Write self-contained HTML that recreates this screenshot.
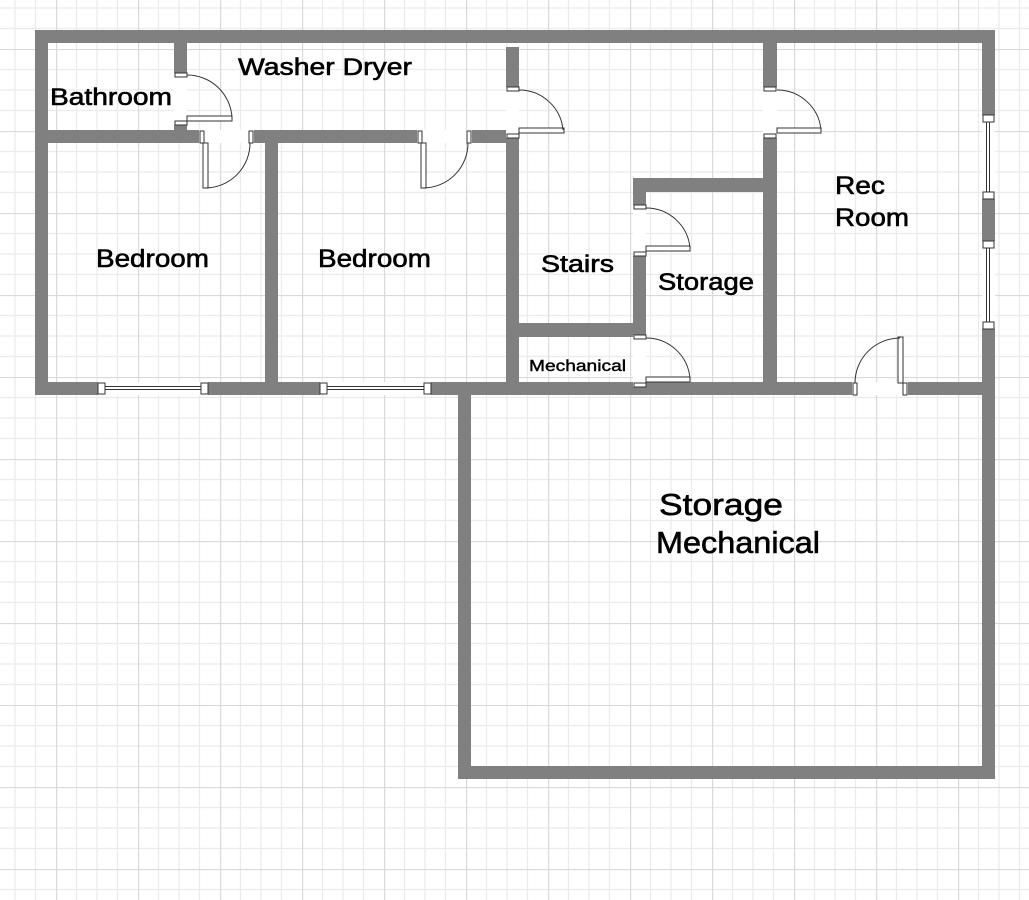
<!DOCTYPE html>
<html><head><meta charset="utf-8"><style>
html,body{margin:0;padding:0;background:#fff;}
svg{display:block;}
text{font-family:"Liberation Sans",Arial,sans-serif;fill:#000;stroke:#000;stroke-width:0.6;}
</style></head><body>
<svg width="1029" height="900" viewBox="0 0 1029 900" xmlns="http://www.w3.org/2000/svg">
<defs>
<pattern id="g" x="56" y="49" width="82" height="82" patternUnits="userSpaceOnUse">
<rect width="82" height="82" fill="#fff"/>
<path d="M20.5 0V82M41 0V82M61.5 0V82M0 20.5H82M0 41H82M0 61.5H82" stroke="#ebebeb" stroke-width="1.2" fill="none"/>
<path d="M0.5 0V82M0 0.5H82" stroke="#d9d9d9" stroke-width="1.3" fill="none"/>
</pattern>
</defs>
<rect width="1029" height="900" fill="url(#g)"/>
<g fill="#808080">
<rect x="35" y="30" width="960" height="13"/>
<rect x="35" y="30" width="13" height="365"/>
<rect x="35" y="382" width="960" height="13"/>
<rect x="982" y="30" width="13" height="749"/>
<rect x="458" y="382" width="13" height="397"/>
<rect x="458" y="766" width="537" height="13"/>
<rect x="174" y="30" width="13" height="113"/>
<rect x="35" y="130" width="484" height="13"/>
<rect x="265" y="130" width="13" height="265"/>
<rect x="506" y="47" width="13" height="348"/>
<rect x="763" y="30" width="14" height="365"/>
<rect x="633" y="178" width="144" height="14"/>
<rect x="633" y="178" width="13" height="217"/>
<rect x="506" y="323" width="140" height="14"/>
</g>
<g stroke="#333" stroke-width="1" fill="#fff">
<rect x="174" y="73" width="13" height="52" stroke="none"/>
<rect x="175" y="73" width="12" height="4"/><rect x="175" y="121" width="12" height="4"/>
<rect x="187" y="116" width="45" height="5"/>
<path d="M187 75 A45 45 0 0 1 232 118" fill="none"/>
<rect x="506" y="87" width="13" height="51" stroke="none"/>
<rect x="507" y="87" width="12" height="4"/><rect x="507" y="134" width="12" height="4"/>
<rect x="519" y="128" width="45" height="5"/>
<path d="M519 90 A44 44 0 0 1 563 130" fill="none"/>
<rect x="763" y="87" width="14" height="51" stroke="none"/>
<rect x="764" y="87" width="12" height="4"/><rect x="764" y="134" width="12" height="4"/>
<rect x="777" y="128" width="44" height="5"/>
<path d="M777 90 A44 44 0 0 1 821 130" fill="none"/>
<rect x="633" y="205" width="13" height="51" stroke="none"/>
<rect x="634" y="205" width="12" height="4"/><rect x="634" y="252" width="12" height="4"/>
<rect x="646" y="246" width="44" height="5"/>
<path d="M646 208 A44 44 0 0 1 690 248" fill="none"/>
<rect x="633" y="335" width="13" height="52" stroke="none"/>
<rect x="634" y="335" width="12" height="4"/><rect x="634" y="383" width="12" height="4"/>
<rect x="646" y="377" width="44" height="5"/>
<path d="M646 338 A44 44 0 0 1 690 379" fill="none"/>
<rect x="199" y="130" width="55" height="13" stroke="none"/>
<rect x="200" y="131" width="4" height="12"/><rect x="249" y="131" width="4" height="12"/>
<rect x="203" y="143" width="5" height="45"/>
<path d="M205 188 A45 45 0 0 0 250 143" fill="none"/>
<rect x="417" y="130" width="55" height="13" stroke="none"/>
<rect x="418" y="131" width="4" height="12"/><rect x="467" y="131" width="4" height="12"/>
<rect x="421" y="143" width="5" height="45"/>
<path d="M423 188 A45 45 0 0 0 468 143" fill="none"/>
<rect x="852" y="382" width="56" height="13" stroke="none"/>
<rect x="853" y="383" width="4" height="12"/><rect x="903" y="383" width="4" height="12"/>
<rect x="898" y="337" width="5" height="46"/>
<path d="M855 383 A45 45 0 0 1 900 338" fill="none"/>
<rect x="98" y="382" width="110" height="13" stroke="none"/>
<rect x="98" y="383" width="7" height="11"/><rect x="201" y="383" width="7" height="11"/>
<path d="M105 386.5H201M105 389.5H201" fill="none"/>
<rect x="320" y="382" width="111" height="13" stroke="none"/>
<rect x="320" y="383" width="7" height="11"/><rect x="424" y="383" width="7" height="11"/>
<path d="M327 386.5H424M327 389.5H424" fill="none"/>
<rect x="982" y="115" width="13" height="84" stroke="none"/>
<rect x="983" y="115" width="11" height="7"/><rect x="983" y="192" width="11" height="7"/>
<path d="M986.5 122V192M989.5 122V192" fill="none"/>
<rect x="982" y="241" width="13" height="88" stroke="none"/>
<rect x="983" y="241" width="11" height="7"/><rect x="983" y="322" width="11" height="7"/>
<path d="M986.5 248V322M989.5 248V322" fill="none"/>
</g>
<text x="50" y="105" font-size="24" textLength="122" lengthAdjust="spacingAndGlyphs">Bathroom</text>
<text x="238" y="75" font-size="24" textLength="174" lengthAdjust="spacingAndGlyphs">Washer Dryer</text>
<text x="96" y="267" font-size="25" textLength="113" lengthAdjust="spacingAndGlyphs">Bedroom</text>
<text x="318" y="267" font-size="25" textLength="113" lengthAdjust="spacingAndGlyphs">Bedroom</text>
<text x="541" y="272" font-size="24" textLength="73" lengthAdjust="spacingAndGlyphs">Stairs</text>
<text x="658" y="290" font-size="24" textLength="96" lengthAdjust="spacingAndGlyphs">Storage</text>
<text x="529" y="371" font-size="16" textLength="97" lengthAdjust="spacingAndGlyphs" style="stroke-width:0.4">Mechanical</text>
<text x="835" y="194" font-size="25" textLength="50" lengthAdjust="spacingAndGlyphs">Rec</text>
<text x="835" y="226" font-size="25" textLength="74" lengthAdjust="spacingAndGlyphs">Room</text>
<text x="659" y="515" font-size="31" textLength="124" lengthAdjust="spacingAndGlyphs">Storage</text>
<text x="656" y="553" font-size="31" textLength="164" lengthAdjust="spacingAndGlyphs">Mechanical</text>
</svg>
</body></html>
